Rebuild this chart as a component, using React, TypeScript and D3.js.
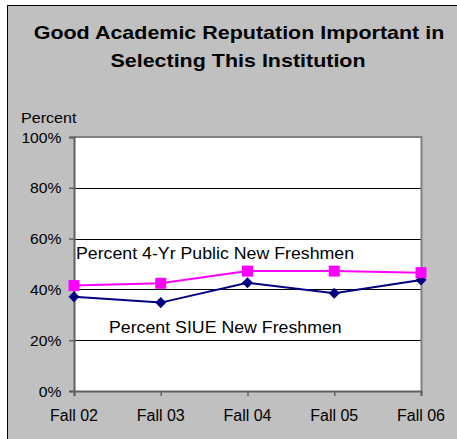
// @ts-nocheck
import * as d3 from "d3"
import { useEffect, useRef } from "react"
import * as React from "react"

const years = ["Fall 02", "Fall 03", "Fall 04", "Fall 05", "Fall 06"]
const publicPct = [41.5, 42.4, 47.2, 47.2, 46.6]
const siuePct = [37.1, 34.8, 42.6, 38.5, 43.7]
const yTicks = [0, 20, 40, 60, 80, 100]

const FONT = "Arial, 'Liberation Sans', sans-serif"

// text drawn with a horizontal stretch, like the old bitmap rendering
function stretchedText(g, x, y, str, size, sx, anchor = "start", bold = false) {
  return g.append("text")
    .attr("transform", `translate(${x},${y}) scale(${sx},1)`)
    .attr("text-anchor", anchor)
    .style("font-family", FONT)
    .style("font-size", `${size}px`)
    .style("font-weight", bold ? "bold" : "normal")
    .attr("fill", "#000")
    .text(str)
}

function buildSVG(node: SVGSVGElement) {
  const width = 457
  const height = 439
  const margin = { left: 74, right: 36, top: 137, bottom: 48 }

  const svg = d3.select(node)
  svg.selectAll("*").remove()
  svg.attr("width", width).attr("height", height)

  svg.append("rect")
    .attr("x", 7.5).attr("y", 5.5)
    .attr("width", width + 10).attr("height", height + 10)
    .attr("fill", "#c0c0c0").attr("stroke", "#000").attr("stroke-width", 1)

  stretchedText(svg, 239, 38.5, "Good Academic Reputation Important in", 19, 1.13, "middle", true)
  stretchedText(svg, 238, 67, "Selecting This Institution", 19, 1.13, "middle", true)

  const x = d3.scalePoint()
    .domain(years)
    .range([margin.left, width - margin.right])
  const y = d3.scaleLinear()
    .domain([0, 100])
    .range([height - margin.bottom, margin.top])

  const [x0, x1] = x.range()
  const [yb, yt] = y.range()

  svg.append("rect")
    .attr("x", x0).attr("y", yt)
    .attr("width", x1 - x0).attr("height", yb - yt)
    .attr("fill", "#fff")

  svg.append("g")
    .selectAll("line")
    .data(yTicks.filter(t => t > 0 && t < 100))
    .join("line")
    .attr("x1", x0).attr("x2", x1)
    .attr("y1", d => Math.round(y(d)) + 0.5).attr("y2", d => Math.round(y(d)) + 0.5)
    .attr("stroke", "#000").attr("stroke-width", 1)

  svg.append("path")
    .attr("d", `M${x0},${yt}H${x1 + 0.5}V${yb}`)
    .attr("fill", "none").attr("stroke", "#808080").attr("stroke-width", 2)

  const yAxis = svg.append("g").attr("transform", `translate(${x0},0)`)
    .call(d3.axisLeft(y).tickValues(yTicks).tickFormat("").tickSize(5))
  yAxis.select(".domain").attr("stroke", "#606060").attr("stroke-width", 2)
  yAxis.selectAll(".tick line").attr("stroke", "#606060").attr("stroke-width", 1.5)

  const xAxis = svg.append("g").attr("transform", `translate(0,${yb})`)
    .call(d3.axisBottom(x).tickFormat("").tickSize(5))
  xAxis.select(".domain").attr("stroke", "#606060").attr("stroke-width", 2)
  xAxis.selectAll(".tick line").attr("stroke", "#606060").attr("stroke-width", 1.5)

  yTicks.forEach(t => stretchedText(svg, 61.5, y(t) + 5.5, `${t}%`, 14, 1.12, "end"))
  years.forEach(yr => stretchedText(svg, x(yr), yb + 30, yr, 16, 1.0, "middle"))

  stretchedText(svg, 21, 123, "Percent", 14, 1.15)

  const line = d3.line<number>()
    .x((d, i) => x(years[i]))
    .y(d => y(d))

  svg.append("path")
    .datum(siuePct)
    .attr("d", line)
    .attr("fill", "none").attr("stroke", "#000080").attr("stroke-width", 2)
  svg.append("g")
    .selectAll("path")
    .data(siuePct)
    .join("path")
    .attr("transform", (d, i) => `translate(${x(years[i])},${y(d)})`)
    .attr("d", d3.symbol(d3.symbolDiamond2, 78))
    .attr("fill", "#000080")

  svg.append("path")
    .datum(publicPct)
    .attr("d", line)
    .attr("fill", "none").attr("stroke", "#ff00ff").attr("stroke-width", 2)
  svg.append("g")
    .selectAll("rect")
    .data(publicPct)
    .join("rect")
    .attr("x", (d, i) => x(years[i]) - 5.5)
    .attr("y", d => y(d) - 5.5)
    .attr("width", 11).attr("height", 11)
    .attr("fill", "#ff00ff")

  stretchedText(svg, 76, 259.3, "Percent 4-Yr Public New Freshmen", 15.7, 1.13)
  stretchedText(svg, 109, 333.3, "Percent SIUE New Freshmen", 15.7, 1.13)
}

export default function App() {
  const ref = useRef<SVGSVGElement>(null)
  useEffect(() => {
    buildSVG(ref.current)
  }, [])
  return <svg ref={ref} style={{ position: "absolute", left: 0, top: 0 }} />
}
